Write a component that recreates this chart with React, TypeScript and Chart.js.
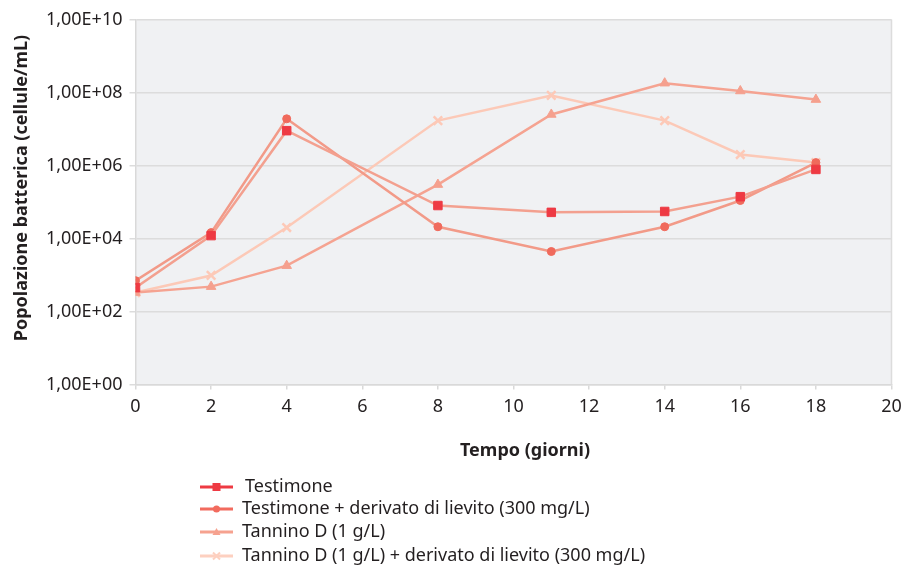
import React, { useEffect, useRef } from "react";
import { Chart, registerables } from "chart.js";

Chart.register(...registerables);

const days = [0, 2, 4, 8, 11, 14, 16, 18];
const testimone = [450, 1.2e4, 9e6, 8e4, 5.2e4, 5.5e4, 1.4e5, 7.8e5];
const testimoneDerivato = [700, 1.45e4, 1.9e7, 2.1e4, 4.4e3, 2.1e4, 1.1e5, 1.2e6];
const tanninoD = [330, 480, 1.8e3, 3e5, 2.5e7, 1.8e8, 1.1e8, 6.4e7];
const tanninoDDerivato = [330, 970, 2e4, 1.7e7, 8.3e7, 1.7e7, 2e6, 1.2e6];

const seriesLabels = [
  "Testimone",
  "Testimone + derivato di lievito (300 mg/L)",
  "Tannino D (1 g/L)",
  "Tannino D (1 g/L) + derivato di lievito (300 mg/L)",
];
const yTickValues = [1, 1e2, 1e4, 1e6, 1e8, 1e10];
const xTitle = "Tempo (giorni)";
const yTitle = "Popolazione batterica (cellule/mL)";

const FONT = "'Noto Sans', sans-serif";
const TEXT = "#231f20";

const lineColors = ["#f3a08f", "#f29a88", "#f5a391", "#fcc9b7"];
const markerColors = ["#ee3a43", "#f06a5c", "#f5a08e", "#fdc9b7"];
const legendLineColors = ["#ee3a43", "#f26b5e", "#f6a28f", "#fdd0c0"];
const pointStyles = ["rect", "circle", "triangle", "crossRot"];
const pointRadii = [6, 4, 5.5, 6];

function fmtTick(v: number) {
  const e = Math.round(Math.log10(v));
  return "1,00E+" + (e < 10 ? "0" + e : String(e));
}

function drawMarker(ctx: CanvasRenderingContext2D, style: string, x: number, y: number, color: string) {
  ctx.save();
  ctx.fillStyle = color;
  ctx.strokeStyle = color;
  if (style === "rect") {
    ctx.fillRect(x - 4, y - 4, 8, 8);
  } else if (style === "circle") {
    ctx.beginPath();
    ctx.arc(x, y, 3.5, 0, Math.PI * 2);
    ctx.fill();
  } else if (style === "triangle") {
    ctx.beginPath();
    ctx.moveTo(x, y - 4);
    ctx.lineTo(x + 4, y + 3);
    ctx.lineTo(x - 4, y + 3);
    ctx.closePath();
    ctx.fill();
  } else {
    ctx.lineWidth = 2;
    ctx.beginPath();
    ctx.moveTo(x - 3.5, y - 3.5);
    ctx.lineTo(x + 3.5, y + 3.5);
    ctx.moveTo(x + 3.5, y - 3.5);
    ctx.lineTo(x - 3.5, y + 3.5);
    ctx.stroke();
  }
  ctx.restore();
}

const decorPlugin = {
  id: "decor",
  beforeDraw(chart: any) {
    const { ctx, chartArea } = chart;
    ctx.save();
    ctx.fillStyle = "#f0f1f3";
    ctx.fillRect(chartArea.left, chartArea.top, chartArea.right - chartArea.left, chartArea.bottom - chartArea.top);
    ctx.restore();
  },
  afterDraw(chart: any) {
    const { ctx, chartArea } = chart;
    ctx.save();
    ctx.strokeStyle = "#dcdcdc";
    ctx.lineWidth = 1.5;
    ctx.beginPath();
    ctx.moveTo(chartArea.right, chartArea.top);
    ctx.lineTo(chartArea.right, chartArea.bottom);
    ctx.stroke();

    ctx.fillStyle = TEXT;
    ctx.font = "bold 18px " + FONT;
    ctx.textAlign = "center";
    ctx.textBaseline = "middle";
    ctx.fillText(xTitle, 525, 451);
    ctx.save();
    ctx.translate(22, 188);
    ctx.rotate(-Math.PI / 2);
    ctx.fillText(yTitle, 0, 0);
    ctx.restore();

    const rows = [487, 509, 532, 556];
    ctx.font = "18px " + FONT;
    ctx.textAlign = "left";
    for (let i = 0; i < seriesLabels.length; i++) {
      const y = rows[i];
      ctx.strokeStyle = legendLineColors[i];
      ctx.lineWidth = 3;
      ctx.beginPath();
      ctx.moveTo(200, y);
      ctx.lineTo(233, y);
      ctx.stroke();
      drawMarker(ctx, pointStyles[i], 216.5, y, legendLineColors[i]);
      ctx.fillStyle = TEXT;
      ctx.fillText(seriesLabels[i], i === 0 ? 245 : 242, y);
    }
    ctx.restore();
  },
};

export default function App() {
  const ref = useRef<HTMLCanvasElement | null>(null);
  useEffect(() => {
    document.body.style.margin = "0";
    if (!ref.current) return;
    const series = [testimone, testimoneDerivato, tanninoD, tanninoDDerivato];
    const chart = new Chart(ref.current, {
      type: "line",
      data: {
        datasets: series.map((vals, i) => ({
          label: seriesLabels[i],
          data: days.map((d, j) => ({ x: d, y: vals[j] })),
          borderColor: lineColors[i],
          backgroundColor: markerColors[i],
          pointBackgroundColor: markerColors[i],
          pointBorderColor: markerColors[i],
          pointBorderWidth: pointStyles[i] === "crossRot" ? 2.5 : 1,
          pointStyle: pointStyles[i] as any,
          pointRadius: pointRadii[i],
          borderWidth: 2.5,
          tension: 0,
          fill: false,
        })),
      },
      plugins: [decorPlugin],
      options: {
        animation: false,
        responsive: false,
        maintainAspectRatio: false,
        layout: { padding: { top: 19.5, right: 13.5, left: 0, bottom: 0 } },
        plugins: {
          legend: { display: false },
          tooltip: { enabled: false },
          title: { display: false },
        },
        scales: {
          x: {
            type: "linear",
            min: 0,
            max: 20,
            ticks: {
              stepSize: 2,
              font: { family: FONT, size: 18 },
              color: TEXT,
              padding: 7,
              maxRotation: 0,
            },
            grid: {
              drawOnChartArea: false,
              color: "#d9d9d9",
              lineWidth: 1.5,
              tickLength: 5,
            },
            border: { display: true, color: "#d9d9d9", width: 1.5 },
            afterFit(scale: any) {
              scale.height = 183.5;
              scale.paddingLeft = 0;
              scale.paddingRight = 0;
            },
          },
          y: {
            type: "logarithmic",
            min: 1,
            max: 1e10,
            afterBuildTicks(scale: any) {
              scale.ticks = yTickValues.map((v) => ({ value: v, major: false }));
            },
            ticks: {
              font: { family: FONT, size: 18 },
              color: TEXT,
              padding: 7,
              callback: (v: any) => fmtTick(Number(v)),
            },
            grid: {
              color: "#dcdcdc",
              lineWidth: 1.5,
              tickLength: 6,
            },
            border: { display: true, color: "#d9d9d9", width: 1.5 },
            afterFit(scale: any) {
              scale.width = 135.5;
              scale.paddingTop = 0;
              scale.paddingBottom = 0;
            },
          },
        },
      },
    });
    return () => chart.destroy();
  }, []);

  return (
    <div style={{ position: "absolute", left: 0, top: 0, width: 905, height: 568 }}>
      <canvas ref={ref} width={905} height={568} style={{ display: "block" }} />
    </div>
  );
}
